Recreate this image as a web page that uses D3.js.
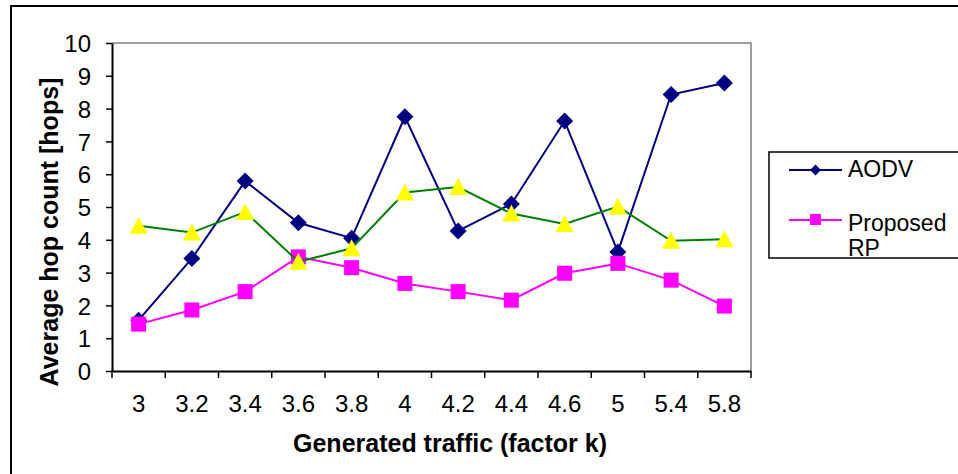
<!DOCTYPE html>
<html>
<head>
<meta charset="utf-8">
<script src="https://cdn.jsdelivr.net/npm/d3@7"></script>
<style>
  body { margin: 0; background: #fff; }
  svg { display: block; font-family: "Liberation Sans", Arial, sans-serif; }
</style>
</head>
<body>
<div id="chart"></div>
<script>
// data
var categories = ["3", "3.2", "3.4", "3.6", "3.8", "4", "4.2", "4.4", "4.6", "5", "5.4", "5.8"];
var aodv     = [1.55, 3.43, 5.79, 4.52, 4.05, 7.75, 4.27, 5.09, 7.62, 3.63, 8.43, 8.78];
var proposed = [1.43, 1.86, 2.42, 3.48, 3.15, 2.67, 2.42, 2.16, 2.98, 3.28, 2.77, 1.98];
var third    = [4.43, 4.22, 4.85, 3.33, 3.74, 5.44, 5.61, 4.80, 4.48, 5.01, 3.97, 4.02];
var yTicks   = [0, 1, 2, 3, 4, 5, 6, 7, 8, 9, 10];

var W = 958, H = 474;
var plot = {left: 112, top: 43, right: 751, bottom: 371};

var svg = d3.select("#chart").append("svg")
    .attr("width", W)
    .attr("height", H);

// outer frame (runs off the right and bottom)
svg.append("rect")
    .attr("x", 11).attr("y", 6)
    .attr("width", 970).attr("height", 500)
    .attr("fill", "none")
    .attr("stroke", "#000")
    .attr("stroke-width", 2);

var x = d3.scaleBand()
    .domain(categories)
    .range([plot.left, plot.right])
    .padding(0);

var y = d3.scaleLinear()
    .domain([0, 10])
    .range([plot.bottom, plot.top]);

function cx(d, i) { return x(categories[i]) + x.bandwidth() / 2; }

// plot area border: grey top + right
svg.append("path")
    .attr("d", "M" + plot.left + "," + y(10) + "H" + plot.right + "V" + y(0))
    .attr("fill", "none")
    .attr("stroke", "#808080")
    .attr("stroke-width", 1.5);

// Y axis
var yAxis = svg.append("g")
    .attr("transform", "translate(" + plot.left + ",0)")
    .call(d3.axisLeft(y).tickValues(yTicks).tickSize(6).tickPadding(15).tickSizeOuter(0));
yAxis.select(".domain").attr("stroke", "#000").attr("stroke-width", 2);
yAxis.selectAll(".tick line").attr("stroke", "#000").attr("stroke-width", 1.5);
yAxis.selectAll("text")
    .attr("font-size", 24)
    .attr("font-family", "Liberation Sans, Arial, sans-serif")
    .attr("fill", "#000")
    .attr("dy", "0.36em");

// X axis: labels centred in categories, ticks on category boundaries
var xAxis = svg.append("g")
    .attr("transform", "translate(0," + plot.bottom + ")")
    .call(d3.axisBottom(x).tickSize(0).tickPadding(0).tickSizeOuter(0));
xAxis.select(".domain").attr("stroke", "#000").attr("stroke-width", 2);
xAxis.selectAll("text")
    .attr("font-size", 24)
    .attr("font-family", "Liberation Sans, Arial, sans-serif")
    .attr("fill", "#000")
    .attr("dy", null)
    .attr("y", 41);

var bounds = categories.map(function(c) { return x(c); }).concat([x(categories[categories.length - 1]) + x.bandwidth()]);
svg.append("g").selectAll("line")
    .data(bounds)
    .enter().append("line")
    .attr("x1", function(d) { return d; })
    .attr("x2", function(d) { return d; })
    .attr("y1", plot.bottom)
    .attr("y2", plot.bottom + 7)
    .attr("stroke", "#000")
    .attr("stroke-width", 1.5);

// axis titles
svg.append("text")
    .attr("x", 450).attr("y", 452)
    .attr("text-anchor", "middle")
    .attr("font-size", 25)
    .attr("font-weight", "bold")
    .text("Generated traffic (factor k)");

svg.append("text")
    .attr("transform", "translate(58,232) rotate(-90)")
    .attr("text-anchor", "middle")
    .attr("font-size", 25)
    .attr("font-weight", "bold")
    .text("Average hop count [hops]");

var line = d3.line()
    .x(cx)
    .y(function(d) { return y(d); });

// AODV
svg.append("path")
    .datum(aodv)
    .attr("d", line)
    .attr("fill", "none")
    .attr("stroke", "#000080")
    .attr("stroke-width", 2);
svg.append("g").selectAll("path")
    .data(aodv)
    .enter().append("path")
    .attr("d", function(d, i) {
      var px = cx(d, i), py = y(d), r = 8.5;
      return "M" + px + "," + (py - r) + "L" + (px + r) + "," + py + "L" + px + "," + (py + r) + "L" + (px - r) + "," + py + "Z";
    })
    .attr("fill", "#000080");

// Proposed RP
svg.append("path")
    .datum(proposed)
    .attr("d", line)
    .attr("fill", "none")
    .attr("stroke", "#FF00FF")
    .attr("stroke-width", 2);
svg.append("g").selectAll("rect")
    .data(proposed)
    .enter().append("rect")
    .attr("x", function(d, i) { return cx(d, i) - 7.5; })
    .attr("y", function(d) { return y(d) - 7.5; })
    .attr("width", 15)
    .attr("height", 15)
    .attr("fill", "#FF00FF");

// third series (no legend entry)
svg.append("path")
    .datum(third)
    .attr("d", line)
    .attr("fill", "none")
    .attr("stroke", "#008000")
    .attr("stroke-width", 2);
svg.append("g").selectAll("path")
    .data(third)
    .enter().append("path")
    .attr("d", function(d, i) {
      var px = cx(d, i), py = y(d);
      return "M" + px + "," + (py - 9) + "L" + (px + 9) + "," + (py + 8) + "L" + (px - 9) + "," + (py + 8) + "Z";
    })
    .attr("fill", "#FFFF00");

// legend
var legend = svg.append("g");
legend.append("rect")
    .attr("x", 769).attr("y", 152)
    .attr("width", 220).attr("height", 106)
    .attr("fill", "#fff")
    .attr("stroke", "#000")
    .attr("stroke-width", 1.5);

legend.append("line")
    .attr("x1", 789).attr("x2", 842).attr("y1", 170).attr("y2", 170)
    .attr("stroke", "#000080").attr("stroke-width", 2);
legend.append("path")
    .attr("d", "M815.5,164.5L821,170L815.5,175.5L810,170Z")
    .attr("fill", "#000080");
legend.append("text")
    .attr("x", 848).attr("y", 177)
    .attr("font-size", 23)
    .text("AODV");

legend.append("line")
    .attr("x1", 789).attr("x2", 842).attr("y1", 220).attr("y2", 220)
    .attr("stroke", "#FF00FF").attr("stroke-width", 2);
legend.append("rect")
    .attr("x", 810).attr("y", 214).attr("width", 11).attr("height", 11)
    .attr("fill", "#FF00FF");
legend.append("text")
    .attr("x", 848).attr("y", 231)
    .attr("font-size", 23)
    .text("Proposed");
legend.append("text")
    .attr("x", 848).attr("y", 256)
    .attr("font-size", 23)
    .text("RP");
</script>
</body>
</html>
